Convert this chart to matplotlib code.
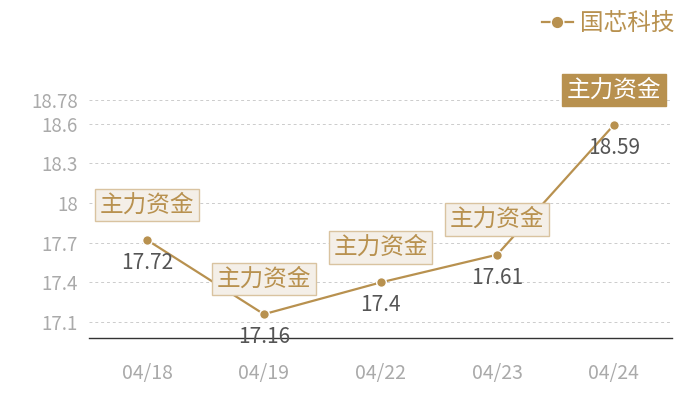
import matplotlib
matplotlib.use("Agg")
import matplotlib.pyplot as plt
import numpy as np

plt.rcParams["font.family"] = ["Noto Sans CJK SC", "DejaVu Sans"]

dates = ["04/18", "04/19", "04/22", "04/23", "04/24"]
prices = [17.72, 17.16, 17.4, 17.61, 18.59]
yticks = [17.1, 17.4, 17.7, 18, 18.3, 18.6, 18.78]
ytick_labels = ["17.1", "17.4", "17.7", "18", "18.3", "18.6", "18.78"]
series_name = "国芯科技"
flag_text = "主力资金"

GOLD = "#b8914f"
x = np.arange(len(dates))

fig = plt.figure(figsize=(7, 4), dpi=100)
ax = fig.add_axes([89/700, 62/400, 583/700, 238/400])

ax.plot(x, prices, color=GOLD, lw=1.6, marker="o", ms=7,
        markeredgecolor="white", markeredgewidth=1, label=series_name, zorder=3)

ax.set_xlim(-0.5, len(dates) - 0.5)
ax.set_ylim(16.98, 18.78)
ax.set_yticks(yticks)
ax.set_yticklabels(ytick_labels)
ax.set_xticks(x)
ax.set_xticklabels(dates)
ax.tick_params(axis="y", length=0, pad=8, labelsize=13.5, labelcolor="#aaaaaa")
ax.tick_params(axis="x", length=0, pad=18, labelsize=14, labelcolor="#aaaaaa")
ax.grid(True, axis="y", color="#cccccc", ls=(0, (3, 3)), lw=0.7)
for s in ["top", "right", "left"]:
    ax.spines[s].set_visible(False)
ax.spines["bottom"].set_color("#333333")
ax.spines["bottom"].set_linewidth(1)

for i, p in enumerate(prices):
    ax.annotate(f"{p:g}", (x[i], p), xytext=(0, -23), textcoords="offset pixels",
                ha="center", va="center", fontsize=15, color="#555555", zorder=4)
    last = i == len(prices) - 1
    ax.annotate(flag_text, (x[i], p), xytext=(0, 35), textcoords="offset pixels",
                ha="center", va="center", fontsize=17,
                color="white" if last else GOLD, zorder=5,
                bbox=dict(boxstyle="square,pad=0.2",
                          fc=GOLD if last else "#f4efe8",
                          ec=GOLD if last else "#d9c3a0", lw=1))

leg = ax.legend(loc="upper right", bbox_to_anchor=(686/700, 1.0), bbox_transform=fig.transFigure,
                frameon=False, fontsize=17, handlelength=1.3, handletextpad=0.3,
                borderaxespad=0.1, markerscale=1.3)
for t in leg.get_texts():
    t.set_color(GOLD)

fig.savefig("out.png")
